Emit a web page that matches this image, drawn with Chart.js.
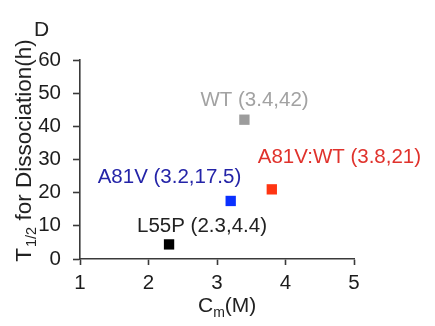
<!doctype html>
<html>
  <head>
    <script src="https://cdn.jsdelivr.net/npm/chart.js"></script>
    <style>
      html, body { margin: 0; padding: 0; background: #fff; }
      #wrap { width: 435px; height: 326px; }
    </style>
    <script>
      // values
      const mutants = ['L55P', 'A81V', 'WT', 'A81V:WT'];
      const cmValues = [2.3, 3.2, 3.4, 3.8];
      const halfLives = [4.4, 17.5, 42, 21];
      const xTicks = [1, 2, 3, 4, 5];
      const yTicks = [0, 10, 20, 30, 40, 50, 60];

      const markColors = ['#000000', '#0a30ff', '#9c9c9c', '#ff3512'];
      const textColors = ['#222222', '#2424a8', '#a2a2a2', '#e0322c'];
      // where each label sits relative to its point (left edge, baseline)
      const labelShift = [[-32, -12], [-133, -18], [-44, -14], [-14, -26]];

      const axisColor = '#3a3a3a';
      const fontName = '"Liberation Sans", Arial, sans-serif';

      const extras = {
        id: 'extras',
        afterDatasetsDraw(chart) {
          const ctx = chart.ctx;
          const xs = chart.scales.x, ys = chart.scales.y;
          ctx.save();
          ctx.textBaseline = 'alphabetic';
          ctx.textAlign = 'left';
          ctx.font = '20.5px ' + fontName;
          for (let i = 0; i < mutants.length; i++) {
            const px = xs.getPixelForValue(cmValues[i]);
            const py = ys.getPixelForValue(halfLives[i]);
            ctx.fillStyle = textColors[i];
            const txt = mutants[i] + ' (' + cmValues[i] + ',' + halfLives[i] + ')';
            ctx.fillText(txt, px + labelShift[i][0], py + labelShift[i][1]);
          }

          // panel letter
          ctx.fillStyle = '#222';
          ctx.font = '21px ' + fontName;
          ctx.fillText('D', 34, 36);

          // x title  C_m(M)
          let big = '21px ' + fontName, small = '14px ' + fontName;
          ctx.font = big;
          const wC = ctx.measureText('C').width;
          ctx.font = small;
          const wm = ctx.measureText('m').width;
          let x0 = 198;
          ctx.font = big;
          ctx.fillText('C', x0, 312);
          ctx.font = small;
          ctx.fillText('m', x0 + wC, 317);
          ctx.font = big;
          ctx.fillText('(M)', x0 + wC + wm, 312);

          // y title  T_1/2 for Dissociation(h)
          big = '22.5px ' + fontName;
          small = '14.5px ' + fontName;
          ctx.font = big;
          const wT = ctx.measureText('T').width;
          const wRest = ctx.measureText(' for Dissociation(h)').width;
          ctx.font = small;
          const wSub = ctx.measureText('1/2').width;
          const total = wT + wSub + wRest;
          ctx.translate(31, 151);
          ctx.rotate(-Math.PI / 2);
          let s = -total / 2;
          ctx.font = big;
          ctx.fillText('T', s, 0);
          ctx.font = small;
          ctx.fillText('1/2', s + wT + 1, 5);
          ctx.font = big;
          ctx.fillText(' for Dissociation(h)', s + wT + wSub + 1, 0);
          ctx.restore();
        }
      };

      function drawchart() {
        const pts = [];
        for (let i = 0; i < mutants.length; i++)
          pts.push({ x: cmValues[i], y: halfLives[i] });

        new Chart(document.getElementById('drawhere'), {
          type: 'scatter',
          data: {
            datasets: [{
              data: pts,
              pointStyle: 'rect',
              pointRadius: 7.3,
              borderWidth: 0,
              backgroundColor: markColors,
              borderColor: markColors
            }]
          },
          options: {
            responsive: false,
            animation: false,
            events: [],
            layout: { padding: { left: 0, top: 60, right: 81, bottom: 0 } },
            plugins: { legend: { display: false }, tooltip: { enabled: false } },
            scales: {
              x: {
                type: 'linear',
                min: xTicks[0],
                max: xTicks[xTicks.length - 1],
                afterFit(sc) { sc.height = 67; },
                afterBuildTicks(sc) { sc.ticks = xTicks.map(v => ({ value: v })); },
                border: { color: axisColor, width: 1.6 },
                grid: { drawOnChartArea: false, drawTicks: true, tickLength: 6, color: axisColor, tickWidth: 1.6 },
                ticks: { color: '#1c1c1c', padding: 6, font: { family: fontName, size: 20.5 } }
              },
              y: {
                type: 'linear',
                min: yTicks[0],
                max: yTicks[yTicks.length - 1],
                afterFit(sc) { sc.width = 80; },
                afterBuildTicks(sc) { sc.ticks = yTicks.map(v => ({ value: v })); },
                border: { color: axisColor, width: 1.6 },
                grid: { drawOnChartArea: false, drawTicks: true, tickLength: 7, color: axisColor, tickWidth: 1.6 },
                ticks: { color: '#1c1c1c', padding: 12, font: { family: fontName, size: 20.5 } }
              }
            }
          },
          plugins: [extras]
        });
      }
    </script>
    <title>Cm vs half-life</title>
  </head>
  <body onload="drawchart()">
    <div id="wrap">
      <canvas id="drawhere" width="435" height="326"></canvas>
    </div>
  </body>
</html>
